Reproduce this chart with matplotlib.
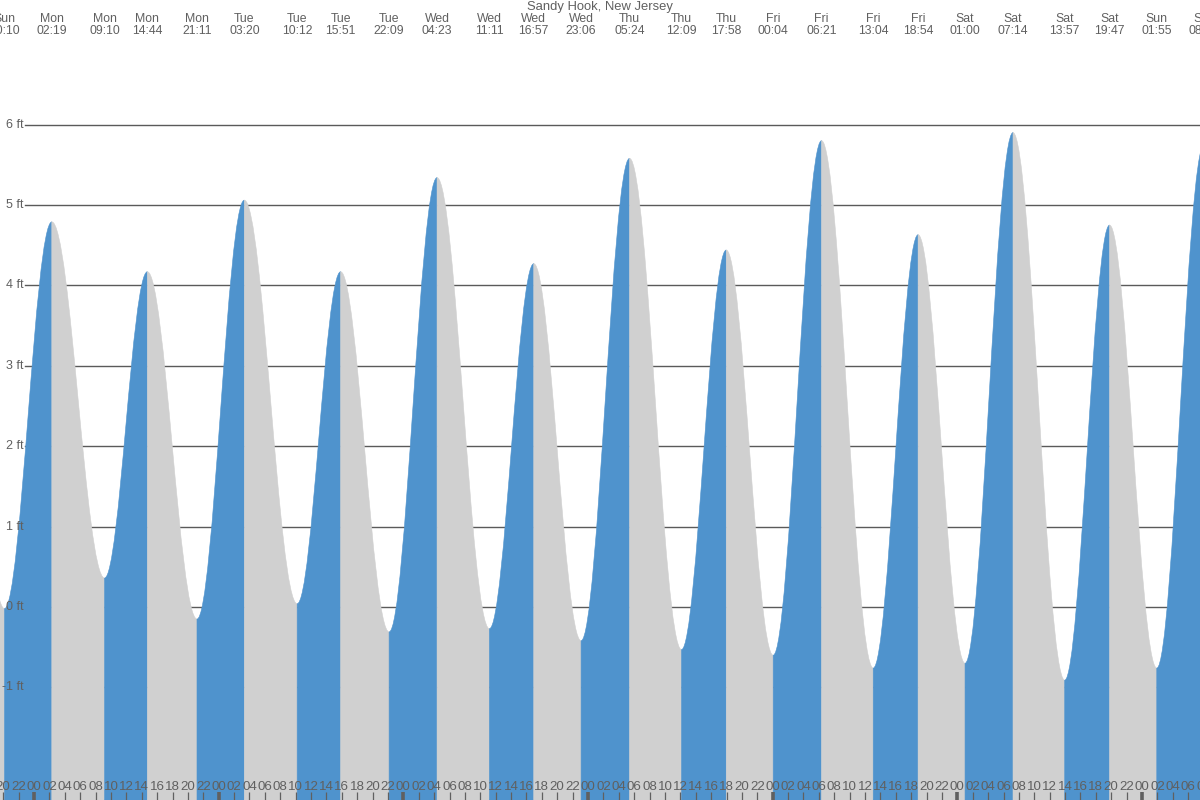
import matplotlib
matplotlib.use("Agg")
import matplotlib.pyplot as plt
from matplotlib.path import Path
from matplotlib.patches import PathPatch
from matplotlib.transforms import blended_transform_factory

plt.rcParams['font.family'] = ['Liberation Sans', 'DejaVu Sans']

TITLE = "Sandy Hook, New Jersey"

# Tide extremes (day index relative to Monday, day label, time, height in ft)
day_offsets = [-1, -1, 0, 0, 0, 0, 1, 1, 1, 1, 2, 2, 2, 2, 3, 3, 3, 4, 4, 4, 4, 5, 5, 5, 5, 6, 6]
day_names = ["Sun", "Sun", "Mon", "Mon", "Mon", "Mon", "Tue", "Tue", "Tue", "Tue",
             "Wed", "Wed", "Wed", "Wed", "Thu", "Thu", "Thu", "Fri", "Fri", "Fri", "Fri",
             "Sat", "Sat", "Sat", "Sat", "Sun", "Sun"]
times = ["13:50", "20:10", "02:19", "09:10", "14:44", "21:11", "03:20", "10:12", "15:51", "22:09",
         "04:23", "11:11", "16:57", "23:06", "05:24", "12:09", "17:58", "00:04", "06:21", "13:04",
         "18:54", "01:00", "07:14", "13:57", "19:47", "01:55", "08:04"]
heights = [4.20, -0.02, 4.79, 0.36, 4.17, -0.15, 5.06, 0.04, 4.17, -0.31,
           5.34, -0.27, 4.27, -0.42, 5.58, -0.53, 4.44, -0.60, 5.80, -0.76,
           4.63, -0.70, 5.90, -0.91, 4.75, -0.76, 5.75]
labeled = [False] + [True] * 26

# Axis settings
y_ticks = [-1, 0, 1, 2, 3, 4, 5, 6]
hour_tick_start, hour_tick_end, hour_tick_step = -4, 154, 2

hours = [d * 24 + int(t[:2]) + int(t[3:]) / 60 for d, t in zip(day_offsets, times)]

BLUE = "#4f93cd"
GREY = "#d0d0d0"
GRID = "#5a5a5a"
TXT = "#606060"

fig = plt.figure(figsize=(12, 8), dpi=100)
ax = fig.add_axes([0, 0, 1, 1])
px_per_h = 184.67 / 24
x0 = -34 / px_per_h
x1 = (1200 - 34) / px_per_h
ft_px = 80.4
ybot = -(800 - 607) / ft_px
ytop = 607 / ft_px
ax.set_xlim(x0, x1)
ax.set_ylim(ybot, ytop)
for s in ax.spines.values():
    s.set_visible(False)

# grid lines (under fill), starting after the label
gtrans = blended_transform_factory(ax.transAxes, ax.transData)
for v in y_ticks:
    ax.plot([25 / 1200, 1], [v, v], color=GRID, lw=1.0, transform=gtrans, zorder=0.5)
    ax.text(23.5 / 1200, v, f"{v} ft", transform=gtrans, ha="right", va="center",
            fontsize=9.0, color=TXT, zorder=5)

# filled tide segments
a = 0.36
for i in range(len(hours) - 1):
    t0, t1 = hours[i], hours[i + 1]
    h0, h1 = heights[i], heights[i + 1]
    dt = t1 - t0
    verts = [(t0, ybot), (t0, h0), (t0 + a * dt, h0), (t1 - a * dt, h1), (t1, h1),
             (t1, ybot), (t0, ybot)]
    codes = [Path.MOVETO, Path.LINETO, Path.CURVE4, Path.CURVE4, Path.CURVE4,
             Path.LINETO, Path.CLOSEPOLY]
    col = BLUE if h1 > h0 else GREY
    ax.add_patch(PathPatch(Path(verts, codes), facecolor=col, edgecolor=col,
                           lw=0.4, zorder=1))

# top labels
ttrans = blended_transform_factory(ax.transData, fig.transFigure)
for h, dn, t, lab in zip(hours, day_names, times, labeled):
    if not lab:
        continue
    ax.text(h, 1 - 19 / 800, dn, transform=ttrans, ha="center", va="center",
            fontsize=8.8, color=TXT, clip_on=False)
    ax.text(h, 1 - 31 / 800, t, transform=ttrans, ha="center", va="center",
            fontsize=8.8, color=TXT, clip_on=False)
fig.text(0.5, 1 - 7 / 800, TITLE, ha="center", va="center", fontsize=9.4, color=TXT)

# bottom hour ticks and labels
btrans = blended_transform_factory(ax.transData, ax.transAxes)
for hh in range(hour_tick_start, hour_tick_end, hour_tick_step):
    hod = hh % 24
    lw = 2.6 if hod == 0 else 0.9
    ax.plot([hh, hh], [0, 8 / 800], color="#606060", lw=lw, transform=btrans,
            solid_capstyle="butt", zorder=4)
    ax.text(hh, 13 / 800, f"{hod:02d}", transform=btrans, ha="center", va="center",
            fontsize=9.6, color=TXT, zorder=5)

ax.set_xticks([])
ax.set_yticks([])
fig.savefig("out.png", dpi=100)
